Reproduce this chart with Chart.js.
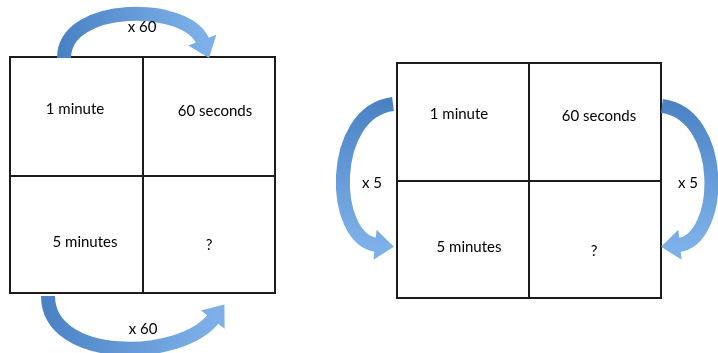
<!DOCTYPE html>
<html>
<head>
<meta charset="utf-8">
<script src="https://cdn.jsdelivr.net/npm/chart.js@4/dist/chart.umd.min.js"></script>
<style>
  html, body { margin: 0; padding: 0; background: #fff; }
  #myChart { display: block; }
</style>
</head>
<body>
<canvas id="myChart" width="718" height="353"></canvas>
<script>
// two 2x2 tables: column edges and row edges (in chart units)
const leftCols = [10, 143, 275];
const leftRows = [57, 176, 293];
const rightCols = [397, 529, 661];
const rightRows = [63, 181, 298];

// cell texts: [x, y, text]
const cellLabels = [
    [75, 109, '1 minute'],
    [215, 111, '60 seconds'],
    [85, 242, '5 minutes'],
    [209, 245, '?'],
    [459, 114, '1 minute'],
    [599, 116, '60 seconds'],
    [469, 247, '5 minutes'],
    [594, 251, '?']
];

// multiplier texts: [x, y, text]
const arrowLabels = [
    [142, 27, 'x 60'],
    [143, 329, 'x 60'],
    [372, 183, 'x 5'],
    [688, 183, 'x 5']
];

// curved arrows: start, control 1, control 2, end of body (cubic curve)
const arrowPaths = [
    [[64, 58], [64, 2], [188, 2], [203, 42]],
    [[48, 296], [48, 362], [180, 362], [214, 318]],
    [[393, 104], [328, 112], [330, 240], [377, 245]],
    [[662, 106], [726, 114], [724, 240], [678, 245]]
];

function tableLines(cols, rows) {
    const segs = [];
    rows.forEach(y => segs.push([{ x: cols[0], y: y }, { x: cols[2], y: y }]));
    cols.forEach(x => segs.push([{ x: x, y: rows[0] }, { x: x, y: rows[2] }]));
    return segs;
}

const segments = tableLines(leftCols, leftRows).concat(tableLines(rightCols, rightRows));

const textPlugin = {
    id: 'texts',
    afterDatasetsDraw(chart) {
        const ctx = chart.ctx;
        const xs = chart.scales.x;
        const ys = chart.scales.y;
        ctx.save();

        // arrows
        arrowPaths.forEach(a => {
            const p = a.map(pt => [xs.getPixelForValue(pt[0]), ys.getPixelForValue(pt[1])]);
            const grad = ctx.createLinearGradient(p[0][0], p[0][1], p[3][0], p[3][1]);
            grad.addColorStop(0, '#4a82c4');
            grad.addColorStop(1, '#7db0e8');
            ctx.strokeStyle = grad;
            ctx.fillStyle = grad;
            ctx.lineWidth = 14;
            ctx.lineCap = 'butt';
            ctx.beginPath();
            ctx.moveTo(p[0][0], p[0][1]);
            ctx.bezierCurveTo(p[1][0], p[1][1], p[2][0], p[2][1], p[3][0], p[3][1]);
            ctx.stroke();
            // head
            let dx = p[3][0] - p[2][0];
            let dy = p[3][1] - p[2][1];
            const len = Math.hypot(dx, dy);
            dx /= len; dy /= len;
            const nx = -dy, ny = dx;
            const hl = 17, hw = 15;
            ctx.beginPath();
            ctx.moveTo(p[3][0] - dx * 2 + nx * hw, p[3][1] - dy * 2 + ny * hw);
            ctx.lineTo(p[3][0] + dx * hl, p[3][1] + dy * hl);
            ctx.lineTo(p[3][0] - dx * 2 - nx * hw, p[3][1] - dy * 2 - ny * hw);
            ctx.closePath();
            ctx.fill();
        });

        ctx.fillStyle = '#000';
        ctx.font = '15px Lato';
        ctx.textAlign = 'center';
        ctx.textBaseline = 'middle';
        cellLabels.concat(arrowLabels).forEach(l => {
            ctx.fillText(l[2], xs.getPixelForValue(l[0]), ys.getPixelForValue(l[1]));
        });
        ctx.restore();
    }
};

const ctx = document.getElementById('myChart').getContext('2d');
const myChart = new Chart(ctx, {
    type: 'scatter',
    data: {
        datasets: segments.map(s => ({
            data: s,
            showLine: true,
            fill: false,
            borderColor: '#1c1c1c',
            borderWidth: 2,
            pointRadius: 0,
            borderCapStyle: 'square'
        }))
    },
    options: {
        responsive: false,
        animation: false,
        layout: { padding: 0 },
        plugins: { legend: { display: false }, tooltip: { enabled: false } },
        scales: {
            x: { type: 'linear', min: 0, max: 718, display: false },
            y: { type: 'linear', min: 0, max: 353, reverse: true, display: false }
        }
    },
    plugins: [textPlugin]
});
</script>
</body>
</html>
